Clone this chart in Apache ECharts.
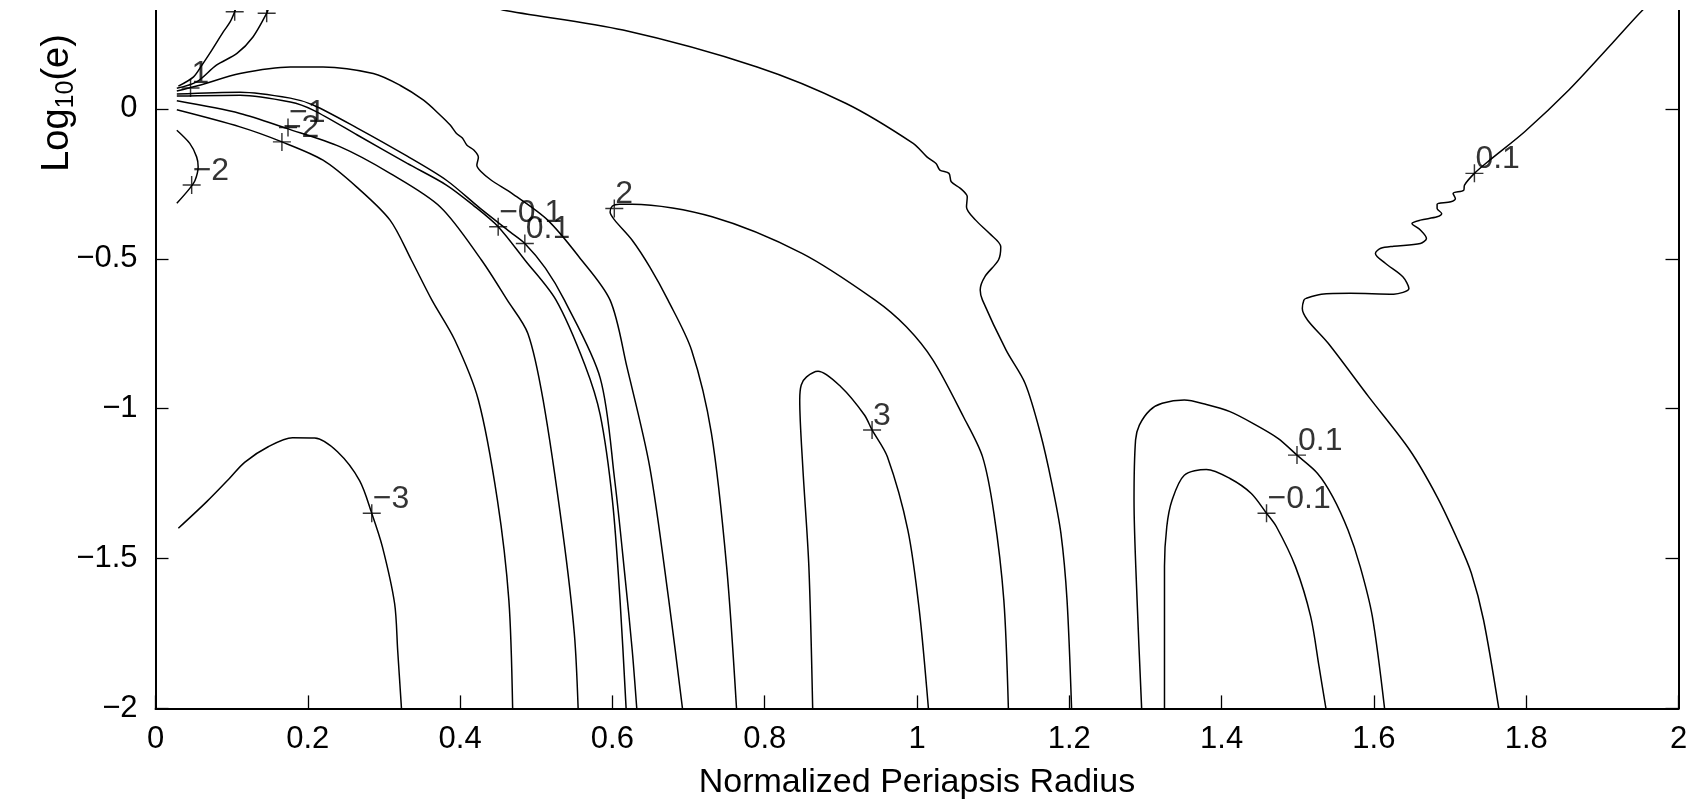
<!DOCTYPE html>
<html><head><meta charset="utf-8">
<script src="https://cdn.jsdelivr.net/npm/echarts@6/dist/echarts.min.js"></script>
<style>html,body{margin:0;padding:0;background:#fff}#c{width:1686px;height:805px}</style>
</head><body><div id="c"></div>
<script>
const xTicks = [0,0.2,0.4,0.6,0.8,1,1.2,1.4,1.6,1.8,2];
const yTicks = [-2,-1.5,-1,-0.5,0];

const lineMinus3 = [[0.030,-1.399],[0.067,-1.311],[0.097,-1.233],[0.117,-1.179],[0.148,-1.127],[0.180,-1.097],[0.209,-1.098],[0.239,-1.144],[0.268,-1.240],[0.284,-1.349],[0.298,-1.461],[0.314,-1.650],[0.318,-1.805],[0.323,-2.0]];
const lineMinus2 = [[0.028,-0.003],[0.111,-0.060],[0.166,-0.110],[0.220,-0.171],[0.264,-0.260],[0.308,-0.371],[0.336,-0.504],[0.363,-0.638],[0.393,-0.771],[0.424,-0.971],[0.449,-1.305],[0.464,-1.638],[0.469,-2.0]];
const lineMinus1 = [[0.028,0.027],[0.111,-0.015],[0.172,-0.065],[0.242,-0.126],[0.308,-0.215],[0.374,-0.327],[0.428,-0.504],[0.462,-0.638],[0.489,-0.749],[0.509,-0.971],[0.535,-1.416],[0.550,-1.750],[0.555,-2.0]];
const lineMinus01 = [[0.028,0.043],[0.111,0.046],[0.177,0.023],[0.207,-0.004],[0.265,-0.087],[0.330,-0.181],[0.382,-0.254],[0.417,-0.321],[0.450,-0.393],[0.485,-0.504],[0.526,-0.638],[0.564,-0.855],[0.584,-1.021],[0.600,-1.305],[0.610,-1.638],[0.618,-2.0]];
const linePlus01 = [[0.028,0.050],[0.111,0.056],[0.177,0.036],[0.207,0.013],[0.265,-0.064],[0.330,-0.157],[0.382,-0.238],[0.426,-0.331],[0.466,-0.411],[0.485,-0.449],[0.512,-0.531],[0.537,-0.638],[0.584,-0.898],[0.603,-1.238],[0.617,-1.572],[0.626,-1.805],[0.632,-2.0]];
const lineOne = [[0.028,0.060],[0.058,0.079],[0.111,0.118],[0.177,0.140],[0.220,0.140],[0.286,0.118],[0.321,0.079],[0.352,0.029],[0.374,-0.021],[0.387,-0.054],[0.395,-0.081],[0.403,-0.097],[0.409,-0.121],[0.418,-0.137],[0.424,-0.161],[0.422,-0.188],[0.427,-0.208],[0.441,-0.238],[0.468,-0.282],[0.515,-0.371],[0.556,-0.493],[0.597,-0.638],[0.619,-0.860],[0.649,-1.194],[0.674,-1.638],[0.692,-2.0]];
const lineSteepA = [[0.030,0.076],[0.050,0.107],[0.061,0.146],[0.074,0.196],[0.089,0.257],[0.098,0.290],[0.104,0.324],[0.106,0.34]];
const lineSteepB = [[0.028,0.069],[0.054,0.090],[0.080,0.146],[0.107,0.185],[0.128,0.240],[0.146,0.319],[0.149,0.34]];
const lineLeftMinus2 = [[0.028,-0.071],[0.045,-0.115],[0.054,-0.160],[0.056,-0.193],[0.052,-0.238],[0.045,-0.265],[0.028,-0.315]];
const lineTwo = [[0.763,-2.0],[0.750,-1.527],[0.730,-1.082],[0.704,-0.805],[0.673,-0.638],[0.649,-0.527],[0.626,-0.438],[0.603,-0.371],[0.597,-0.344],[0.600,-0.324],[0.609,-0.318],[0.626,-0.318],[0.731,-0.360],[0.849,-0.482],[0.945,-0.638],[0.986,-0.727],[1.021,-0.838],[1.061,-1.027],[1.086,-1.160],[1.101,-1.349],[1.114,-1.638],[1.120,-2.0]];
const lineThree = [[0.863,-2.0],[0.858,-1.527],[0.850,-1.194],[0.846,-0.971],[0.848,-0.921],[0.855,-0.894],[0.870,-0.875],[0.900,-0.927],[0.931,-1.021],[0.941,-1.071],[0.961,-1.160],[0.988,-1.405],[1.003,-1.672],[1.015,-2.0]];
const lineTopArc = [[0.441,0.345],[0.456,0.330],[0.614,0.263],[0.790,0.140],[0.907,0.018],[0.995,-0.115],[1.013,-0.160],[1.025,-0.182],[1.030,-0.204],[1.042,-0.215],[1.045,-0.243],[1.057,-0.265],[1.066,-0.293],[1.065,-0.327],[1.077,-0.371],[1.095,-0.415],[1.110,-0.460],[1.107,-0.504],[1.089,-0.560],[1.083,-0.604],[1.086,-0.638],[1.117,-0.805],[1.142,-0.916],[1.162,-1.082],[1.177,-1.249],[1.189,-1.416],[1.197,-1.638],[1.203,-2.0]];
const lineRightOuter = [[1.295,-2.0],[1.289,-1.638],[1.285,-1.305],[1.287,-1.105],[1.292,-1.055],[1.306,-1.005],[1.322,-0.982],[1.351,-0.971],[1.380,-0.986],[1.411,-1.010],[1.441,-1.049],[1.474,-1.099],[1.499,-1.155],[1.526,-1.216],[1.546,-1.294],[1.566,-1.405],[1.582,-1.527],[1.598,-1.694],[1.614,-2.0]];
const lineRightInner = [[1.325,-2.0],[1.325,-1.527],[1.328,-1.394],[1.335,-1.305],[1.351,-1.222],[1.380,-1.203],[1.411,-1.233],[1.439,-1.283],[1.459,-1.349],[1.472,-1.394],[1.497,-1.527],[1.517,-1.694],[1.528,-1.861],[1.537,-2.0]];
const lineRightWave = [[1.764,-2.0],[1.744,-1.705],[1.728,-1.549],[1.710,-1.438],[1.683,-1.294],[1.647,-1.138],[1.593,-0.960],[1.540,-0.782],[1.513,-0.705],[1.506,-0.666],[1.508,-0.638],[1.511,-0.632],[1.531,-0.618],[1.569,-0.615],[1.626,-0.618],[1.646,-0.599],[1.638,-0.560],[1.615,-0.515],[1.602,-0.482],[1.609,-0.465],[1.626,-0.458],[1.661,-0.449],[1.669,-0.432],[1.661,-0.404],[1.650,-0.382],[1.661,-0.371],[1.683,-0.360],[1.689,-0.349],[1.683,-0.332],[1.683,-0.318],[1.701,-0.310],[1.707,-0.299],[1.704,-0.282],[1.718,-0.271],[1.719,-0.254],[1.732,-0.215],[1.752,-0.171],[1.798,-0.076],[1.856,0.063],[1.913,0.219],[1.953,0.330],[1.968,0.36]];

const contourLines = [lineMinus3, lineMinus2, lineMinus1, lineMinus01, linePlus01, lineOne, lineSteepA, lineSteepB, lineLeftMinus2, lineTwo, lineThree, lineTopArc, lineRightOuter, lineRightInner, lineRightWave];

const labelPoints = [
  [0.284,-1.349,'\u22123'],
  [0.166,-0.110,'\u22122'],
  [0.174,-0.062,'\u22121'],
  [0.0475,-0.254,'\u22122'],
  [0.046,0.070,'1'],
  [0.450,-0.393,'\u22120.1'],
  [0.485,-0.449,'0.1'],
  [0.6025,-0.332,'2'],
  [0.941,-1.071,'3'],
  [1.499,-1.155,'0.1'],
  [1.459,-1.349,'\u22120.1'],
  [1.732,-0.215,'0.1'],
  [0.104,0.324,''],
  [0.146,0.319,'']
];

const FONT = 'Liberation Sans';
const fmt = v => { const r = Math.round(v*10)/10; return r < 0 ? '\u2212' + Math.abs(r) : String(r); };
const plus = 'path://M-0.08,-1L0.08,-1L0.08,-0.08L1,-0.08L1,0.08L0.08,0.08L0.08,1L-0.08,1L-0.08,0.08L-1,0.08L-1,-0.08L-0.08,-0.08Z';

const series = contourLines.map(d => ({
  type: 'line', data: d, showSymbol: false, smooth: 0.3, clip: true,
  lineStyle: {color: '#000', width: 1.5}, silent: true, z: 2
}));
series.push({
  type: 'scatter', data: labelPoints, symbol: plus, symbolSize: 18, clip: false,
  itemStyle: {color: '#000'}, z: 5,
  label: {show: true, formatter: p => p.value[2], position: [10, 11], align: 'left', verticalAlign: 'bottom',
    color: '#000', fontSize: 32, fontFamily: FONT}
});

const chart = echarts.init(document.getElementById('c'), null, {renderer: 'canvas'});
chart.setOption({
  animation: false,
  backgroundColor: '#fff',
  grid: {left: 155.5, right: 7.5, top: 10, bottom: 96.6, containLabel: false, outerBoundsMode: 'none'},
  xAxis: {
    type: 'value', min: 0, max: 2,
    axisLine: {onZero: false, lineStyle: {color: '#000', width: 2}},
    axisTick: {inside: true, length: 13, customValues: xTicks, lineStyle: {color: '#000', width: 1.3}},
    axisLabel: {customValues: xTicks, formatter: fmt, color: '#000', fontSize: 31, fontFamily: FONT, margin: 16,
      alignMinLabel: 'center', alignMaxLabel: 'center', hideOverlap: false},
    splitLine: {show: false},
    name: 'Normalized Periapsis Radius', nameLocation: 'middle', nameGap: 57,
    nameTextStyle: {color: '#000', fontSize: 34, fontFamily: FONT}
  },
  yAxis: [{
    type: 'value', min: -2, max: 0.33, position: 'left',
    axisLine: {show: true, onZero: false, lineStyle: {color: '#000', width: 2}},
    axisTick: {show: true, inside: true, length: 13, customValues: yTicks, lineStyle: {color: '#000', width: 1.3}},
    axisLabel: {customValues: yTicks, formatter: fmt, color: '#000', fontSize: 31, fontFamily: FONT, margin: 18},
    splitLine: {show: false}
  }, {
    type: 'value', min: -2, max: 0.33, position: 'right',
    axisLine: {show: true, onZero: false, lineStyle: {color: '#000', width: 2}},
    axisTick: {show: true, inside: true, length: 13, customValues: yTicks, lineStyle: {color: '#000', width: 1.3}},
    axisLabel: {show: false},
    splitLine: {show: false}
  }],
  graphic: [
    {type: 'rect', shape: {x: 0, y: 0, width: 1686, height: 10}, style: {fill: '#fff'}, z: 100, silent: true},
    {type: 'text', x: 58, y: 103, rotation: Math.PI/2, z: 100,
      style: {text: 'Log{s|10}(e)', fontSize: 38, fontFamily: FONT, fill: '#000', align: 'center', verticalAlign: 'middle',
        rich: {s: {fontSize: 25, fontFamily: FONT, fill: '#000', padding: [16, 0, 0, 0]}}}}
  ],
  series: series
});
</script></body></html>
